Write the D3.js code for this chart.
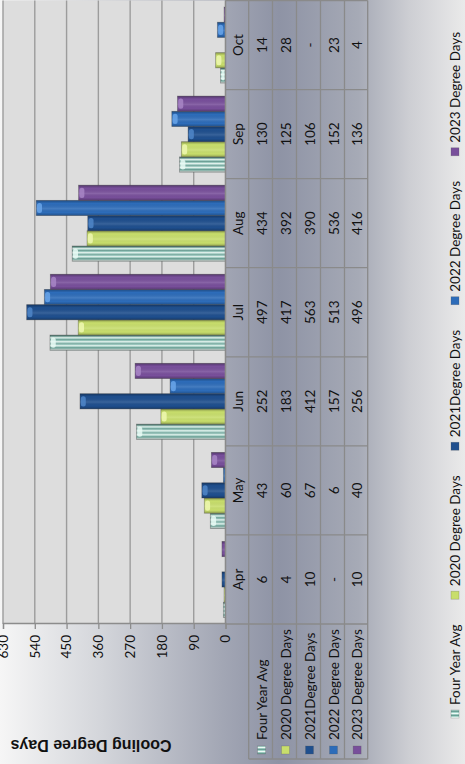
<!DOCTYPE html>
<html><head><meta charset="utf-8">
<script src="https://cdn.jsdelivr.net/npm/d3@7"></script>
<style>html,body{margin:0;padding:0;background:#fff;overflow:hidden}</style>
</head><body>
<svg id="c" width="465" height="764"></svg>
<script>
const months = ["Apr","May","Jun","Jul","Aug","Sep","Oct"];
const seriesNames = ["Four Year Avg","2020 Degree Days","2021Degree Days","2022 Degree Days","2023 Degree Days"];
const fourYearAvg = [6,43,252,497,434,130,14];
const deg2020 = [4,60,183,417,392,125,28];
const deg2021 = [10,67,412,563,390,106,null];
const deg2022 = [null,6,157,513,536,152,23];
const deg2023 = [10,40,256,496,416,136,4];
const yTicks = [0,90,180,270,360,450,540,630];
const seriesValues = [fourYearAvg,deg2020,deg2021,deg2022,deg2023];

const W = 764, H = 465;
const svg = d3.select("#c");
const defs = svg.append("defs");
const g = svg.append("g").attr("transform","translate(0,764) rotate(-90)");

const bg = defs.append("linearGradient").attr("id","bg").attr("x1",0).attr("y1",0).attr("x2",0).attr("y2",1);
[[0,"#f6f6f6"],[0.22,"#d3d5da"],[0.48,"#a2a6b4"],[0.6,"#8e93a5"],[0.77,"#a6aab6"],[0.88,"#cdced3"],[1,"#eaeaea"]]
  .forEach(([o,c])=>bg.append("stop").attr("offset",o).attr("stop-color",c));
g.append("rect").attr("width",W).attr("height",H).attr("fill","url(#bg)");

const colors = ["#a9d6cc","#c8de6c","#1f4f8e","#2d6cb9","#784f9b"];
const hi = ["#e8faf5","#eef8b0","#4f86c8","#6aa6ea","#a886c6"];

const pat = defs.append("pattern").attr("id","stripe").attr("patternUnits","userSpaceOnUse").attr("width",4).attr("height",4);
pat.append("rect").attr("width",4).attr("height",4).attr("fill","#a6d4ca");
pat.append("rect").attr("x",0).attr("width",1).attr("height",4).attr("fill","#eefaf6");
pat.append("rect").attr("x",2).attr("width",1.2).attr("height",4).attr("fill","#6a9f95");

seriesNames.forEach((s,i)=>{
  const lg = defs.append("linearGradient").attr("id","sh"+i).attr("x1",0).attr("y1",0).attr("x2",1).attr("y2",0);
  lg.append("stop").attr("offset",0).attr("stop-color","#000").attr("stop-opacity",0.25);
  lg.append("stop").attr("offset",0.2).attr("stop-color","#000").attr("stop-opacity",0.0);
  lg.append("stop").attr("offset",0.45).attr("stop-color","#fff").attr("stop-opacity",0.12);
  lg.append("stop").attr("offset",0.8).attr("stop-color","#000").attr("stop-opacity",0.0);
  lg.append("stop").attr("offset",1).attr("stop-color","#000").attr("stop-opacity",0.3);
});

const plotL = 140, plotR = 763.5, plotT = 3, plotB = 225.5;
const x0 = d3.scaleBand().domain(months).range([plotL, plotR]);
const x1 = d3.scaleBand().domain(seriesNames).range([0, x0.bandwidth()]).paddingOuter(0.43);
const y = d3.scaleLinear().domain([0,630]).range([plotB, plotT]);

g.append("rect").attr("x",plotL).attr("y",plotT).attr("width",plotR-plotL).attr("height",plotB-plotT).attr("fill","#dddddd");

g.append("g").selectAll("line").data(yTicks.filter(d=>d>0)).join("line")
  .attr("x1",plotL).attr("x2",plotR).attr("y1",d=>y(d)).attr("y2",d=>y(d))
  .attr("stroke","#9c9c9c").attr("stroke-width",1.4);

const yAxis = d3.axisLeft(y).tickValues(yTicks).tickSize(5).tickPadding(6);
const ya = g.append("g").attr("transform",`translate(${plotL},0)`).call(yAxis);
ya.select(".domain").attr("stroke","#8c8c8c").attr("stroke-width",1.3);
ya.selectAll(".tick line").attr("stroke","#8c8c8c").attr("stroke-width",1.3);
ya.selectAll("text").attr("font-family","Lato, 'Open Sans', sans-serif").attr("font-size","13.5px").attr("fill","#111");

g.append("text").attr("transform",`translate(19,91) rotate(-90)`)
  .attr("text-anchor","middle").attr("dominant-baseline","central")
  .attr("font-family","'Liberation Sans', Arial, sans-serif").attr("font-weight","bold").attr("font-size","16px")
  .attr("fill","#111").text("Cooling Degree Days");

const barData = [];
seriesValues.forEach((arr,si)=>arr.forEach((v,mi)=>{ if(v!=null) barData.push({s:seriesNames[si],si,m:months[mi],v}); }));
const bars = g.append("g").selectAll("g").data(barData).join("g")
  .attr("transform",d=>`translate(${x0(d.m)+x1(d.s)},0)`);
const bw = x1.bandwidth();
bars.append("rect").attr("x",0).attr("y",d=>y(d.v)).attr("width",bw).attr("height",d=>plotB-y(d.v))
  .attr("fill",d=>d.si===0?"url(#stripe)":colors[d.si]).attr("stroke","#4a4a4a").attr("stroke-opacity",0.45).attr("stroke-width",0.8);
bars.append("rect").attr("x",0).attr("y",d=>y(d.v)).attr("width",bw).attr("height",d=>plotB-y(d.v))
  .attr("fill",d=>`url(#sh${d.si})`);
bars.filter(d=>plotB-y(d.v)>4).append("rect")
  .attr("x",2.5).attr("y",d=>y(d.v)+0.8).attr("width",bw-5).attr("height",d=>Math.min(5,plotB-y(d.v)-1.5)).attr("rx",2.5)
  .attr("fill",d=>hi[d.si]).attr("opacity",0.85);

g.append("line").attr("x1",plotL).attr("x2",plotR).attr("y1",plotB).attr("y2",plotB).attr("stroke","#8c8c8c").attr("stroke-width",1.3);

const rowEdges = [225.5,248.7,272.5,296.5,320.5,344.5,367.7];
const tg = g.append("g");
const lineC = "#8a8a8a";
rowEdges.forEach((ry,i)=>{
  tg.append("line").attr("x1", i===0?plotL:5).attr("x2",plotR).attr("y1",ry).attr("y2",ry).attr("stroke",lineC).attr("stroke-width",1.3);
});
const vEdges = months.map(m=>x0(m)).concat([plotR]);
vEdges.forEach(vx=>tg.append("line").attr("x1",vx).attr("x2",vx).attr("y1",plotB).attr("y2",rowEdges[6]).attr("stroke",lineC).attr("stroke-width",1.3));
tg.append("line").attr("x1",5).attr("x2",5).attr("y1",rowEdges[1]).attr("y2",rowEdges[6]).attr("stroke",lineC).attr("stroke-width",1.3);

const fontT = "Lato, 'Open Sans', sans-serif";
tg.selectAll("text.m").data(months).join("text").attr("class","m")
  .attr("x",d=>x0(d)+x0.bandwidth()/2).attr("y",(rowEdges[0]+rowEdges[1])/2+1)
  .attr("text-anchor","middle").attr("dominant-baseline","central")
  .attr("font-family",fontT).attr("font-size","13.5px").attr("fill","#111").text(d=>d);
seriesValues.forEach((arr,si)=>{
  const cy = (rowEdges[si+1]+rowEdges[si+2])/2+1;
  tg.append("g").selectAll("text").data(arr).join("text")
    .attr("x",(d,i)=>x0(months[i])+x0.bandwidth()/2).attr("y",cy)
    .attr("text-anchor","middle").attr("dominant-baseline","central")
    .attr("font-family",fontT).attr("font-size","13.5px").attr("fill","#111")
    .text(d=>d==null?"-":d);
  tg.append("rect").attr("x",10).attr("y",cy-4).attr("width",8).attr("height",8)
    .attr("fill",si===0?"url(#stripe)":colors[si]).attr("stroke","#555").attr("stroke-opacity",0.4).attr("stroke-width",0.6);
  tg.append("text").attr("x",24).attr("y",cy).attr("dominant-baseline","central")
    .attr("font-family",fontT).attr("font-size","13.5px").attr("fill","#111").text(seriesNames[si]);
});

const lg = g.append("g");
const legY = 455;
const items = seriesNames.map((s,i)=>{
  const it = lg.append("g");
  it.append("rect").attr("x",0).attr("y",legY-4).attr("width",8).attr("height",8)
    .attr("fill",i===0?"url(#stripe)":colors[i]).attr("stroke","#555").attr("stroke-opacity",0.4).attr("stroke-width",0.6);
  const t = it.append("text").attr("x",13).attr("y",legY).attr("dominant-baseline","central")
    .attr("font-family",fontT).attr("font-size","13.5px").attr("fill","#111").text(s);
  return {it, w: 13 + t.node().getComputedTextLength()};
});
const legStart = 46, legEnd = 732;
const total = items.reduce((a,b)=>a+b.w,0);
const gap = (legEnd-legStart-total)/(items.length-1);
let cx = legStart;
items.forEach(o=>{ o.it.attr("transform",`translate(${cx},0)`); cx += o.w + gap; });
</script>
</body></html>
